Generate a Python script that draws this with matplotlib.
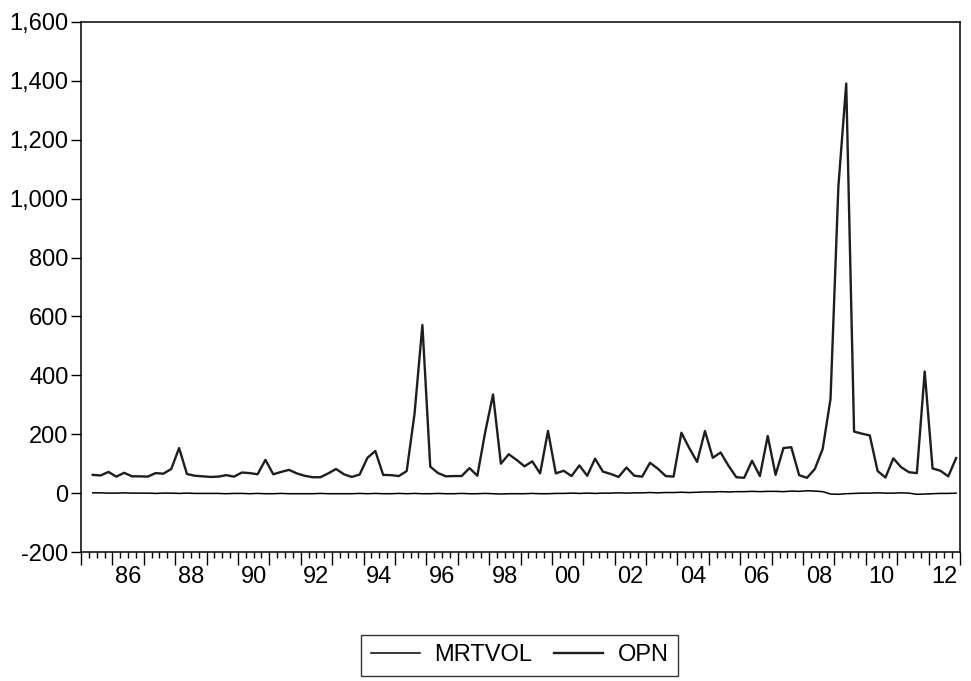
import matplotlib
matplotlib.use("Agg")
import matplotlib.pyplot as plt
import numpy as np
from matplotlib.ticker import FuncFormatter

plt.rcParams["font.family"] = ["Liberation Sans", "DejaVu Sans"]

# quarterly data, 1985Q2 - 2012Q4
start_year, start_q = 1985, 2

opn = [
    62, 60, 72,            # 1985 Q2-Q4
    56, 69, 57, 57,        # 1986
    56, 68, 66, 82,        # 1987
    153, 65, 59, 57,       # 1988
    55, 56, 61, 56,        # 1989
    70, 68, 64, 113,       # 1990
    64, 72, 79, 67,        # 1991
    59, 54, 54, 67,        # 1992
    82, 64, 55, 63,        # 1993
    120, 143, 62, 61,      # 1994
    58, 75, 270, 571,      # 1995
    90, 68, 57, 58,        # 1996
    58, 85, 59, 207,       # 1997
    335, 100, 132, 113,    # 1998
    91, 108, 67, 211,      # 1999
    67, 76, 58, 94,        # 2000
    59, 117, 73, 65,       # 2001
    55, 87, 59, 56,        # 2002
    103, 83, 58, 56,       # 2003
    205, 153, 106, 211,    # 2004
    120, 138, 93, 54,      # 2005
    52, 110, 58, 194,      # 2006
    62, 153, 156, 61,      # 2007
    52, 82, 150, 320,      # 2008
    1041, 1391, 209, 202,  # 2009
    196, 75, 53, 118,      # 2010
    88, 71, 68, 413,       # 2011
    84, 76, 57, 119,       # 2012
]

mrtvol = [
    1, 1, 0,
    0, 1, 0, 0,
    0, -1, 0, 0,
    -1, 0, -1, -1,
    -1, -1, -2, -1,
    -1, -2, -1, -2,
    -2, -1, -2, -2,
    -2, -2, -1, -2,
    -2, -2, -2, -1,
    -2, -1, -2, -2,
    -1, -2, -1, -2,
    -2, -1, -2, -2,
    -1, -2, -2, -1,
    -2, -3, -2, -2,
    -2, -1, -2, -2,
    -1, -1, 0, -1,
    0, -1, 0, 0,
    1, 0, 1, 1,
    2, 1, 2, 2,
    3, 2, 3, 4,
    4, 5, 4, 5,
    5, 6, 5, 6,
    6, 5, 7, 6,
    8, 7, 5, -3,
    -4, -2, -1, 0,
    0, 1, 0, 0,
    1, 0, -4, -3,
    -2, -1, -1, 0,
]

year_labels = ["86", "88", "90", "92", "94", "96", "98", "00",
               "02", "04", "06", "08", "10", "12"]
y_ticks = [-200, 0, 200, 400, 600, 800, 1000, 1200, 1400, 1600]

# observation positions: centre of each quarter
n = len(opn)
q_idx = np.arange(n) + (start_q - 1)
x = start_year + q_idx / 4.0 + 0.125

fig = plt.figure(figsize=(9.71, 6.81), dpi=100)
ax = fig.add_axes([0.0834, 0.1894, 0.9053, 0.7783])

ax.plot(x, mrtvol, color="black", lw=1.1, label="MRTVOL")
ax.plot(x, opn, color="#1e1e1e", lw=1.7, label="OPN")

ax.set_xlim(1985, 2013)
ax.set_ylim(-200, 1600)

ax.set_yticks(y_ticks)
ax.yaxis.set_major_formatter(FuncFormatter(lambda v, p: f"{v:,.0f}"))
ax.tick_params(axis="y", direction="out", length=7, width=1,
               labelsize=17, pad=2, right=False)

# year ticks (long) and quarter ticks (short), labels centred on even years
ax.set_xticks(np.arange(1985, 2014))
ax.set_xticks(np.arange(1985, 2013.01, 0.25), minor=True)
ax.tick_params(axis="x", which="major", direction="out", length=9.5,
               width=1, labelbottom=False)
ax.tick_params(axis="x", which="minor", direction="out", length=4.5, width=1)

sec = ax.secondary_xaxis("bottom")
mid = [1986.5 + 2 * i for i in range(len(year_labels))]
sec.set_xticks(mid, labels=year_labels)
sec.tick_params(length=0, pad=10, labelsize=17)
sec.spines["bottom"].set_visible(False)

for s in ax.spines.values():
    s.set_linewidth(1.1)
    s.set_color("black")

fig.legend(loc="center", bbox_to_anchor=(0.535, 0.038), ncol=2,
           fontsize=17, frameon=True, fancybox=False, edgecolor="black",
           handlelength=2.1, columnspacing=0.9, handletextpad=0.6,
           borderpad=0.4)

fig.savefig("out.png", dpi=100, facecolor="white")
